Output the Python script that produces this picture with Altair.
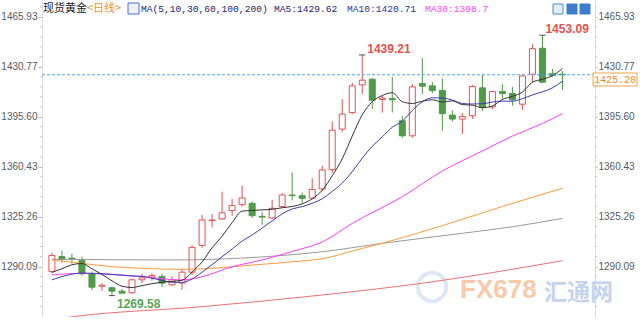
import altair as alt
import pandas as pd

# ---------------- data ----------------
opens = [1286.5, 1297.1, 1296.0, 1294.3, 1285.0, 1276.2, 1275.1, 1272.7, 1271.6, 1280.7,
         1282.6, 1283.1, 1277.2, 1278.4, 1286.1, 1304.9, 1322.4, 1323.6, 1329.5, 1333.7,
         1334.6, 1325.4, 1324.3, 1332.3, 1340.5, 1340.0, 1338.3, 1344.7, 1358.3, 1386.9,
         1398.6, 1418.1, 1422.1, 1407.8, 1408.5, 1392.8, 1382.2, 1419.0, 1417.4, 1414.2,
         1396.8, 1394.0, 1396.3, 1416.0, 1402.6, 1413.4, 1412.0, 1404.5, 1425.6, 1443.9,
         1425.9, 1425.6]
highs = [1299.9, 1301.3, 1299.0, 1297.1, 1286.6, 1278.3, 1276.0, 1274.4, 1281.4, 1285.0,
         1285.4, 1285.0, 1283.1, 1288.5, 1305.1, 1326.4, 1327.1, 1342.8, 1337.8, 1347.0,
         1336.0, 1328.6, 1337.0, 1341.7, 1356.4, 1342.2, 1352.4, 1361.1, 1392.5, 1408.0,
         1419.6, 1439.21, 1422.8, 1410.4, 1423.7, 1396.3, 1418.7, 1436.9, 1420.2, 1422.6,
         1400.1, 1398.2, 1417.9, 1425.4, 1414.0, 1418.5, 1416.6, 1425.6, 1446.7, 1453.09,
         1429.4, 1427.8]
lows = [1285.2, 1292.4, 1292.0, 1283.7, 1273.2, 1272.9, 1269.58, 1270.9, 1270.9, 1278.4,
        1280.2, 1275.5, 1276.5, 1273.7, 1284.0, 1303.3, 1317.6, 1322.9, 1325.7, 1332.2,
        1324.3, 1319.5, 1323.6, 1331.6, 1336.7, 1334.8, 1337.4, 1343.0, 1356.2, 1385.0,
        1397.5, 1411.6, 1401.0, 1398.6, 1398.6, 1380.7, 1381.0, 1411.6, 1412.2, 1385.7,
        1392.2, 1383.5, 1394.0, 1399.6, 1400.8, 1408.3, 1403.4, 1400.4, 1420.2, 1419.3,
        1423.9, 1414.7]
closes = [1297.8, 1295.0, 1295.4, 1285.0, 1275.5, 1276.9, 1272.7, 1271.3, 1280.7, 1282.1,
          1283.8, 1278.4, 1280.7, 1286.1, 1303.6, 1322.9, 1322.9, 1327.9, 1333.0, 1338.4,
          1325.9, 1324.9, 1331.1, 1340.5, 1340.0, 1338.1, 1344.4, 1358.1, 1386.2, 1397.5,
          1417.4, 1421.4, 1407.3, 1408.8, 1407.6, 1382.2, 1416.7, 1417.2, 1414.0, 1397.8,
          1394.0, 1395.8, 1416.9, 1402.1, 1413.4, 1412.0, 1407.6, 1424.4, 1443.6, 1420.0,
          1424.8, 1425.2]

ma5_idx = list(range(52))
ma5_vals = [1286.0, 1288.5, 1291.3, 1292.2, 1288.5, 1284.5, 1280.0, 1276.2, 1275.3, 1276.6,
            1278.0, 1279.0, 1279.6, 1280.4, 1286.2, 1293.3, 1303.3, 1311.4, 1321.1, 1329.1,
            1329.6, 1330.0, 1330.4, 1331.5, 1332.4, 1334.2, 1337.8, 1343.8, 1354.0, 1366.0,
            1382.0, 1397.0, 1406.3, 1410.6, 1412.6, 1406.2, 1405.0, 1406.6, 1407.6, 1406.0,
            1406.8, 1404.2, 1403.8, 1402.0, 1403.2, 1407.8, 1410.0, 1413.0, 1420.0, 1422.0,
            1424.6, 1429.62]
ma10_idx = [0, 3, 5, 8] + list(range(9, 52))
ma10_vals = [1280.7, 1285.4, 1285.0, 1283.4,
             1283.2, 1281.8, 1280.4, 1279.0, 1278.9, 1281.3, 1286.1, 1291.4, 1297.0, 1302.4,
             1308.0, 1312.3, 1317.2, 1322.2, 1327.2, 1330.6, 1332.3, 1334.6, 1337.8, 1343.0,
             1348.9, 1357.0, 1366.5, 1374.8, 1381.5, 1388.2, 1392.5, 1400.0, 1406.2, 1409.0,
             1408.8, 1407.4, 1405.0, 1404.6, 1404.8, 1406.0, 1406.6, 1406.6, 1408.4, 1411.0,
             1413.2, 1416.0, 1420.71]
ma30_idx = [0, 3, 6, 9, 13, 15, 18, 21, 24, 27, 30, 35, 39, 43, 46, 49, 51]
ma30_vals = [1284.1, 1285.3, 1284.6, 1282.9, 1280.6, 1282.9, 1289.9, 1294.7, 1300.7, 1307.4,
             1320.5, 1339.3, 1357.4, 1371.5, 1382.0, 1390.9, 1397.8]
ma60_idx = [0, 3, 6, 9, 13, 16, 20, 25, 27, 30, 33, 40, 45, 51]
ma60_vals = [1294.7, 1292.3, 1290.0, 1288.8, 1288.1, 1288.8, 1291.1, 1294.0, 1295.5, 1301.0,
             1306.5, 1321.1, 1332.4, 1345.2]
ma100_idx = [0, 12, 20, 27, 33, 41, 46, 51]
ma100_vals = [1295.2, 1294.7, 1296.4, 1300.5, 1306.4, 1313.5, 1318.1, 1324.0]
ma200_idx = [0, 2, 15, 27, 37, 51]
ma200_vals = [1252.6, 1254.6, 1261.8, 1270.0, 1278.3, 1294.2]

y_ticks = [1290.09, 1325.26, 1360.43, 1395.60, 1430.77, 1465.93]
last_price = 1425.20
extremes_idx = [31, 49, 6]
extremes_val = [1439.21, 1453.09, 1269.58]

title_name = "现货黄金"
title_period = "<日线>"
ma_def = "MA(5,10,30,60,100,200)"
ma_labels = ["MA5:1429.62", "MA10:1420.71", "MA30:1398.7"]

# ---------------- styling ----------------
RED = "#e4514f"
GREEN = "#4f9b48"
UP = "datum.close >= datum.open"

XS = alt.Scale(domain=[-0.49, 53.75], nice=False, zero=False)
YS = alt.Scale(domain=[1254.50, 1477.91], nice=False, zero=False)
X = alt.X("idx:Q", scale=XS, axis=None)

axis_common = dict(values=y_ticks, format=".2f", grid=False, title=None,
                   labelFont="Liberation Sans", labelFontSize=10, labelColor="#555a66",
                   tickColor="#b5b5b5", domainColor="#dddddd", labelFlush=False,
                   labelOverlap=False, labelPadding=1)
left_axis = alt.Axis(orient="left", tickSize=4, **axis_common)
right_axis = alt.Axis(orient="right", tickSize=2, **axis_common)

candles = pd.DataFrame({"idx": list(range(len(opens))), "open": opens, "high": highs,
                        "low": lows, "close": closes})
one = pd.DataFrame({"a": [0]})


def label(text, x, y, color, size, font, weight="normal", align="left", opacity=1.0):
    return alt.Chart(pd.DataFrame({"t": [text]})).mark_text(
        align=align, baseline="middle", font=font, fontSize=size,
        fontWeight=weight, color=color, opacity=opacity
    ).encode(x=alt.value(x), y=alt.value(y), text="t:N")


def box(x1, x2, y1, y2, fill, stroke):
    return alt.Chart(one).mark_rect(fill=fill, stroke=stroke, strokeWidth=1).encode(
        x=alt.value(x1), x2=alt.value(x2), y=alt.value(y1), y2=alt.value(y2))


layers = []

# watermark (behind)
layers.append(alt.Chart(one).mark_point(shape="circle", size=800, filled=False,
                                        stroke="#d3def0", strokeWidth=4).encode(
    x=alt.value(390), y=alt.value(287)))
layers.append(label("FX678", 418, 290, "#f9c4a0", 26, "Liberation Sans", "bold", opacity=0.9))
layers.append(label("汇通网", 502, 293, "#bfd0ea", 23, "Noto Sans CJK SC", "bold", opacity=0.9))

# minor ticks on both axes
minor = [round(1290.09 + k * 7.034, 3) for k in range(-5, 27) if k % 5 != 0]
minor = [v for v in minor if 1254.5 < v < 1477.9]
mdf = pd.DataFrame({"v": minor})
layers.append(alt.Chart(mdf).mark_rule(color="#c8c8c8").encode(
    y=alt.Y("v:Q", scale=YS, axis=None), x=alt.value(-2), x2=alt.value(0)))
layers.append(alt.Chart(mdf).mark_rule(color="#c8c8c8").encode(
    y=alt.Y("v:Q", scale=YS, axis=None), x=alt.value(553), x2=alt.value(555)))

# candles
layers.append(alt.Chart(candles).mark_rule(strokeWidth=1).encode(
    x=X, y=alt.Y("low:Q", scale=YS, axis=left_axis), y2="high:Q",
    color=alt.condition(UP, alt.value(RED), alt.value(GREEN))))
layers.append(alt.Chart(candles).mark_bar(size=6, strokeWidth=1).encode(
    x=X, y=alt.Y("open:Q", scale=YS, axis=right_axis), y2="close:Q",
    fill=alt.condition(UP, alt.value("#ffffff"), alt.value(GREEN)),
    stroke=alt.condition(UP, alt.value(RED), alt.value(GREEN))))


def ma_layer(ix, vals, color):
    df = pd.DataFrame({"idx": ix, "v": vals})
    return alt.Chart(df).mark_line(strokeWidth=1, color=color, clip=True,
                                   interpolate="monotone").encode(
        x=X, y=alt.Y("v:Q", scale=YS, axis=None))


layers += [
    ma_layer(ma200_idx, ma200_vals, "#ee7070"),
    ma_layer(ma100_idx, ma100_vals, "#9a9a9a"),
    ma_layer(ma60_idx, ma60_vals, "#ff9a3c"),
    ma_layer(ma30_idx, ma30_vals, "#ff3cff"),
    ma_layer(ma10_idx, ma10_vals, "#3c3cb4"),
    ma_layer(ma5_idx, ma5_vals, "#333333"),
]

# last price dashed line
layers.append(alt.Chart(pd.DataFrame({"p": [last_price]})).mark_rule(
    strokeDash=[3, 2], color="#4da6f5", strokeWidth=1).encode(
    y=alt.Y("p:Q", scale=YS, axis=None)))

# extremes
ext = pd.DataFrame({"idx": extremes_idx, "v": extremes_val,
                    "t": [f"{v:.2f}" for v in extremes_val]})
layers.append(alt.Chart(ext).mark_point(shape="stroke", size=40, filled=False,
                                        color="#111111", strokeWidth=1).encode(
    x=X, y=alt.Y("v:Q", scale=YS, axis=None)))
ext_style = [(RED, 5, -6), (RED, 3, -6), ("#5aa555", 5, 8)]
for k, (col, dx, dy) in enumerate(ext_style):
    layers.append(alt.Chart(ext.iloc[[k]]).mark_text(
        align="left", baseline="middle", dx=dx, dy=dy, font="Liberation Sans",
        fontSize=12, fontWeight="bold", color=col).encode(
        x=X, y=alt.Y("v:Q", scale=YS, axis=None), text="t:N"))

# price tag on right
layers.append(box(551, 595, 73, 86, "#ffffff", "#f5a04a"))
layers.append(label(f"{last_price:.2f}", 573, 79.5, "#f08c28", 10, "Liberation Mono", align="center"))

# header texts
layers.append(label(title_name, 1, 8.5, "#222222", 11, "Noto Sans CJK SC"))
layers.append(label(title_period, 45, 8.5, "#f0932b", 11, "Noto Sans CJK SC"))
layers.append(box(86, 97, 3, 14, "#eef2ff", "#4a72d0"))
layers.append(label(ma_def, 99, 9, "#22226e", 9.6, "Liberation Mono"))
layers.append(label(ma_labels[0], 232, 9, "#22226e", 9.6, "Liberation Mono"))
layers.append(label(ma_labels[1], 305, 9, "#2e2e9a", 9.6, "Liberation Mono"))
layers.append(label(ma_labels[2], 383, 9, "#ff40ff", 9.6, "Liberation Mono"))

# toolbar icons top right
layers.append(box(511, 521, 4, 14, "#e3eefb", "#4a8ad8"))
layers.append(box(525, 535, 4, 14, "#3c7ccc", "#3c7ccc"))
layers.append(box(538, 548, 4, 14, "#3c7ccc", "#3c7ccc"))

chart = alt.layer(*layers).resolve_axis(y="independent").properties(
    width=553, height=317,
    padding={"left": 42, "right": 45, "top": 0, "bottom": 3},
    autosize=alt.AutoSizeParams(type="none"),
    background="white",
).configure_view(stroke=None)

chart.save("out.html", embed_options={"renderer": "svg", "actions": False})
